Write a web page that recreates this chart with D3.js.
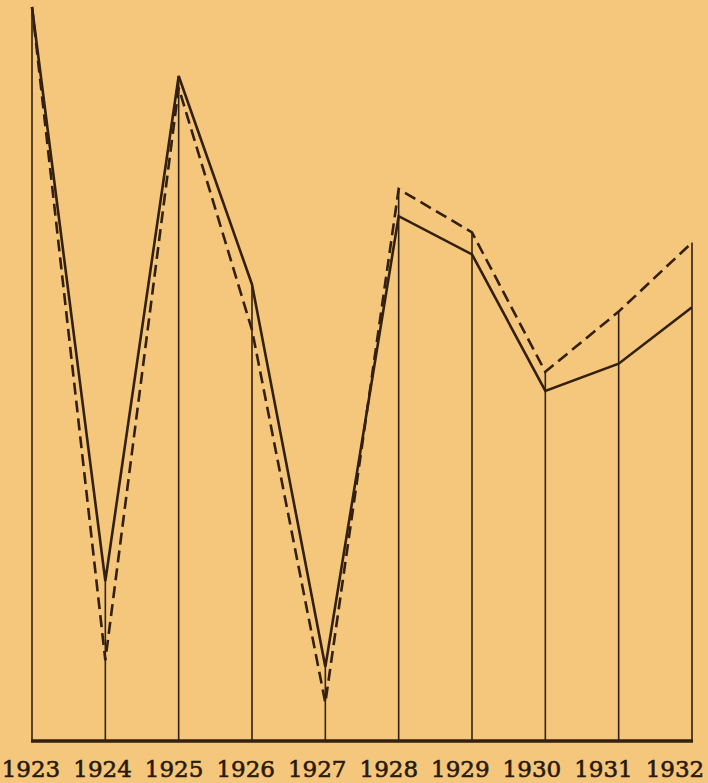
<!DOCTYPE html>
<html>
<head>
<meta charset="utf-8">
<script src="https://cdn.jsdelivr.net/npm/d3@7"></script>
<style>
  body { margin: 0; background: #f4c77d; }
  svg { display: block; }
</style>
</head>
<body>
<div id="chart"></div>
<script>
// Years along the bottom
const years = ["1923", "1924", "1925", "1926", "1927", "1928", "1929", "1930", "1931", "1932"];

// Solid line values (top of chart = 100)
const solidValues = [100, 21.8, 90.6, 62.2, 10.1, 71.5, 66.3, 47.7, 51.4, 59.1];

// Dashed line values
const dashedValues = [100, 11.0, 89.0, 56.0, 5.2, 75.2, 69.3, 50.3, 58.5, 67.9];

drawChart();

function drawChart() {
  let width = 708,
    height = 783;

  let ink = "#34200f";

  let svg = d3
    .select("#chart")
    .append("svg")
    .attr("width", width)
    .attr("height", height);

  svg.append("rect")
    .attr("width", width)
    .attr("height", height)
    .attr("fill", "#f4c77d");

  // x positions of the year lines
  let x = d3.scalePoint().domain(years).range([32, 692]);
  // labels sit a little to the left as they go right
  let xLabel = d3.scalePoint().domain(years).range([31, 675]);

  let y = d3.scaleLinear().domain([0, 100]).range([741, 7]);

  let rows = years.map(function (yr, i) {
    return { year: yr, solid: solidValues[i], dashed: dashedValues[i] };
  });

  // Vertical lines from baseline up to the higher of the two points
  svg.selectAll(".drop")
    .data(rows)
    .enter()
    .append("line")
    .attr("class", "drop")
    .attr("x1", function (d) { return x(d.year); })
    .attr("x2", function (d) { return x(d.year); })
    .attr("y1", y(0))
    .attr("y2", function (d) { return y(Math.max(d.solid, d.dashed)); })
    .attr("stroke", ink)
    .attr("stroke-width", 1.6);

  let solidLine = d3.line()
    .x(function (d) { return x(d.year); })
    .y(function (d) { return y(d.solid); });

  let dashedLine = d3.line()
    .x(function (d) { return x(d.year); })
    .y(function (d) { return y(d.dashed); });

  svg.append("path")
    .datum(rows)
    .attr("d", dashedLine)
    .attr("fill", "none")
    .attr("stroke", ink)
    .attr("stroke-width", 2.6)
    .attr("stroke-dasharray", "12,6")
    .attr("stroke-linejoin", "miter");

  svg.append("path")
    .datum(rows)
    .attr("d", solidLine)
    .attr("fill", "none")
    .attr("stroke", ink)
    .attr("stroke-width", 2.6)
    .attr("stroke-linejoin", "miter");

  // Baseline
  svg.append("line")
    .attr("x1", x(years[0]) - 1)
    .attr("x2", x(years[years.length - 1]) + 1)
    .attr("y1", y(0))
    .attr("y2", y(0))
    .attr("stroke", ink)
    .attr("stroke-width", 3.5);

  // Year labels
  svg.selectAll(".yr")
    .data(years)
    .enter()
    .append("text")
    .attr("class", "yr")
    .attr("x", function (d) { return xLabel(d); })
    .attr("y", 777)
    .attr("text-anchor", "middle")
    .style("font-family", "'DejaVu Serif', serif")
    .style("font-size", "23px")
    .style("fill", "#2a1a0c")
    .style("stroke", "#2a1a0c")
    .style("stroke-width", "0.6px")
    .text(function (d) { return d; });
}
</script>
</body>
</html>
